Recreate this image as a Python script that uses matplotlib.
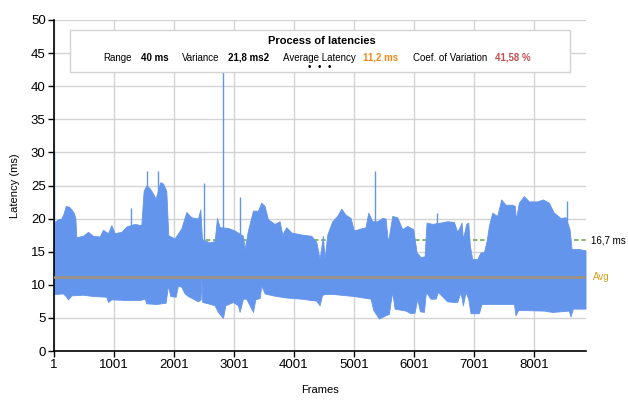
import matplotlib
matplotlib.use("Agg")
import matplotlib.pyplot as plt
from matplotlib.patches import Rectangle

plt.rcParams['font.family'] = ['Liberation Sans', 'DejaVu Sans']

# upper envelope of the latency trace (frame, ms)
top_frames = [1, 12, 68, 123, 162, 195, 251, 290, 329, 357, 373, 484, 568, 651, 762,
              818, 901, 957, 1012, 1123, 1207, 1345, 1456, 1495, 1540, 1595, 1651,
              1695, 1773, 1818, 1873, 1906, 2012, 2123, 2207, 2290, 2401, 2440, 2468,
              2595, 2679, 2718, 2762, 2901, 3012, 3151, 3179, 3234, 3318, 3401, 3457,
              3512, 3568, 3679, 3762, 3807, 3873, 3957, 4123, 4290, 4373, 4429, 4484,
              4512, 4557, 4640, 4723, 4790, 4862, 4945, 5001, 5112, 5195, 5240, 5307,
              5390, 5473, 5529, 5568, 5640, 5723, 5807, 5890, 5990, 6046, 6112, 6179,
              6212, 6306, 6445, 6556, 6668, 6723, 6773, 6795, 6818, 6873, 6907, 6934,
              6973, 7057, 7112, 7168, 7212, 7251, 7307, 7390, 7457, 7529, 7640, 7684,
              7701, 7751, 7834, 7918, 8057, 8151, 8251, 8334, 8445, 8529, 8596, 8629,
              8751, 8862]
top_ms = [19.5, 19.5, 19.9, 20.0, 20.8, 21.9, 21.8, 21.4, 20.9, 20.1, 17.2, 17.4, 18.0,
          17.4, 17.3, 18.3, 17.8, 19.0, 17.8, 18.0, 18.8, 19.2, 19.0, 24.2, 25.0, 24.6,
          23.8, 23.0, 25.5, 25.3, 24.2, 17.5, 17.0, 18.5, 21.0, 20.2, 20.0, 21.4, 16.9,
          16.4, 16.6, 20.1, 18.7, 18.6, 18.2, 17.4, 15.4, 18.2, 21.2, 21.2, 22.4, 21.9,
          19.9, 19.2, 19.6, 17.6, 18.7, 17.9, 17.6, 17.4, 16.5, 13.9, 17.4, 13.9, 17.6,
          19.6, 20.4, 21.5, 20.6, 20.1, 18.2, 18.5, 18.7, 20.9, 19.6, 19.6, 20.1, 20.0,
          16.4, 20.4, 20.2, 18.4, 18.9, 18.4, 14.9, 14.2, 14.3, 19.4, 19.2, 19.4, 19.6,
          19.5, 18.0, 18.9, 19.4, 16.9, 19.2, 19.4, 15.9, 13.9, 13.9, 14.9, 14.9, 16.6,
          18.9, 20.9, 20.4, 22.9, 22.1, 22.1, 21.9, 19.9, 22.4, 23.4, 22.6, 22.6, 22.9,
          22.4, 20.9, 20.1, 20.2, 18.4, 15.4, 15.4, 15.2]

# lower envelope
low_frames = [1, 12, 151, 206, 234, 290, 484, 651, 873, 901, 957, 1207, 1429, 1512,
              1540, 1706, 1862, 1901, 1940, 2029, 2068, 2123, 2179, 2234, 2401, 2446,
              2457, 2473, 2568, 2679, 2734, 2818, 2857, 2984, 3068, 3095, 3151, 3206,
              3262, 3318, 3357, 3429, 3457, 3512, 3651, 3845, 4123, 4373, 4429, 4468,
              4501, 4668, 5001, 5279, 5323, 5418, 5529, 5584, 5612, 5640, 5679, 5862,
              5945, 6012, 6057, 6101, 6168, 6201, 6279, 6362, 6401, 6457, 6556, 6668,
              6723, 6779, 6818, 6862, 6907, 6945, 7084, 7129, 7668, 7695, 7740, 8168,
              8307, 8445, 8584, 8612, 8651, 8862]
low_ms = [8.6, 8.6, 8.7, 8.2, 7.8, 8.4, 8.5, 8.3, 8.2, 7.4, 7.8, 7.7, 7.7, 7.9, 7.2,
          7.1, 7.3, 9.9, 8.3, 8.2, 9.9, 9.7, 8.7, 8.3, 7.5, 7.8, 11.0, 7.4, 7.2, 6.9,
          5.9, 5.0, 6.9, 7.4, 6.9, 5.9, 7.9, 7.9, 6.9, 5.9, 7.8, 8.0, 9.9, 8.7, 8.4,
          8.1, 7.9, 7.6, 6.9, 8.4, 8.6, 8.6, 8.3, 7.9, 6.2, 4.9, 5.4, 5.6, 7.4, 8.9,
          6.4, 6.1, 5.7, 5.8, 7.9, 6.0, 5.9, 8.9, 7.9, 7.9, 8.9, 8.4, 7.5, 7.4, 7.4,
          8.9, 6.9, 8.9, 7.9, 5.7, 5.7, 7.1, 7.1, 5.4, 6.2, 6.1, 5.9, 6.0, 6.1, 5.2,
          6.4, 6.4]

# single-frame spikes
spike_frames = [1, 1279, 1551, 1734, 2495, 2818, 3095, 5345, 6379, 8557]
spike_ms = [30.2, 21.6, 27.2, 27.2, 25.4, 45.0, 23.2, 27.2, 20.9, 22.6]

avg_latency = 11.2
threshold = 16.7
x_ticks = [1, 1001, 2001, 3001, 4001, 5001, 6001, 7001, 8001]

blue = '#6495ED'

fig = plt.figure(figsize=(6.28, 4.04), dpi=100)
ax = fig.add_axes([54 / 628, 1 - 351 / 404, 532 / 628, 331 / 404])

ax.axhline(threshold, color='#7AB45A', lw=1.3, ls=(0, (2.5, 1.5)), zorder=1)

ax.fill_between(top_frames, avg_latency, top_ms, color=blue, lw=0.6, zorder=2)
ax.fill_between(low_frames, low_ms, avg_latency, color=blue, lw=0.6, zorder=2)
ax.vlines(spike_frames, avg_latency, spike_ms, color=blue, lw=1.0, zorder=2)

ax.axhline(avg_latency, color='#9A9282', lw=2, zorder=3)

ax.set_xlim(1, 8870)
ax.set_ylim(0, 50)
ax.set_xticks(x_ticks)
ax.set_yticks(range(0, 51, 5))
ax.tick_params(labelsize=9.5, length=4, width=1, colors='black', pad=2)
ax.grid(True, color='#D3D3D3', lw=1)
ax.set_axisbelow(True)
for s in ['top', 'right']:
    ax.spines[s].set_visible(False)
for s in ['left', 'bottom']:
    ax.spines[s].set_linewidth(1.2)

ax.set_xlabel('Frames', fontsize=8, labelpad=10)
ax.set_ylabel('Latency (ms)', fontsize=8, labelpad=8)

ax.text(1.01, threshold, '16,7 ms', transform=ax.get_yaxis_transform(),
        fontsize=7, va='center', ha='left')
ax.text(1.013, avg_latency, 'Avg', transform=ax.get_yaxis_transform(),
        fontsize=7, va='center', ha='left', color='#D4A020')

# summary box
fig.add_artist(Rectangle((70 / 628, 1 - 72 / 404), 500 / 628, 42 / 404,
                         transform=fig.transFigure, facecolor='white',
                         edgecolor='#D3D3D3', lw=1, zorder=5))


def ftext(x, y, s, **kw):
    fig.text(x / 628, 1 - y / 404, s, va='center', ha='left', fontsize=7, zorder=6, **kw)


fig.text(322 / 628, 1 - 41 / 404, 'Process of latencies', ha='center', va='center',
         fontsize=8, fontweight='bold', zorder=6)
ftext(103, 58, 'Range')
ftext(141, 58, '40 ms', fontweight='bold')
ftext(182, 58, 'Variance')
ftext(228, 58, '21,8 ms2', fontweight='bold')
ftext(283, 58, 'Average Latency')
ftext(363, 58, '11,2 ms', fontweight='bold', color='#F08A1C')
ftext(413, 58, 'Coef. of Variation')
ftext(495, 58, '41,58 %', fontweight='bold', color='#C0504D')
for dx in [309, 319, 329]:
    fig.text(dx / 628, 1 - 67 / 404, '•', ha='center', va='center', fontsize=7, zorder=6)

fig.savefig('out.png', dpi=100)
